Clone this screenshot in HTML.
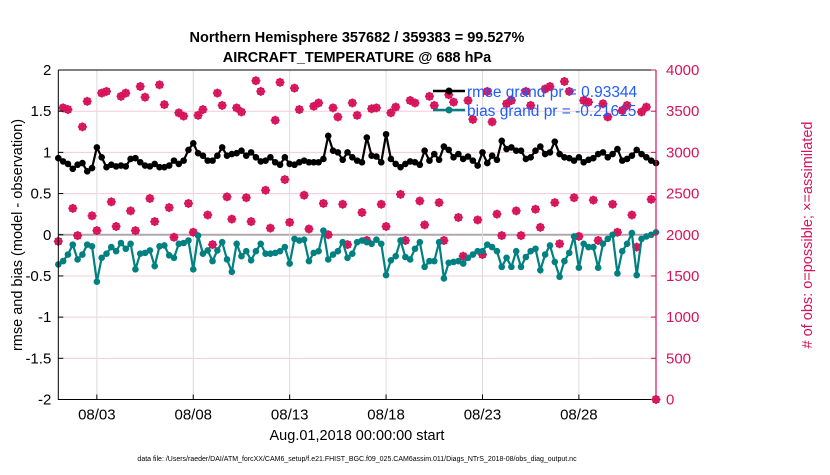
<!DOCTYPE html>
<html><head><meta charset="utf-8">
<style>
body{margin:0;background:#fff;}
svg text{font-family:"Liberation Sans",Arial,sans-serif;}
</style></head>
<body>
<svg id="chart" width="830" height="470" viewBox="0 0 830 470" xmlns="http://www.w3.org/2000/svg">
<rect width="830" height="470" fill="#fff"/>
<g id="grid"></g>
<g id="series"></g>
<g id="axes"></g>
<text x="357" y="42" font-size="14.5" font-weight="bold" text-anchor="middle">Northern Hemisphere 357682 / 359383 = 99.527%</text>
<text x="357" y="62" font-size="14.5" font-weight="bold" text-anchor="middle">AIRCRAFT_TEMPERATURE @ 688 hPa</text>
<text transform="translate(22,235) rotate(-90)" font-size="14.5" text-anchor="middle">rmse and bias (model - observation)</text>
<text transform="translate(812,235) rotate(-90)" font-size="14.5" text-anchor="middle" fill="#d6135a"># of obs: o=possible; ×=assimilated</text>
<text x="357" y="440" font-size="14.5" text-anchor="middle">Aug.01,2018 00:00:00 start</text>
<text x="357" y="461" font-size="7" text-anchor="middle">data file: /Users/raeder/DAI/ATM_forcXX/CAM6_setup/f.e21.FHIST_BGC.f09_025.CAM6assim.011/Diags_NTrS_2018-08/obs_diag_output.nc</text>
<g id="legend">
<line x1="433" y1="91" x2="465" y2="91" stroke="#000" stroke-width="2.5"/>
<circle cx="449" cy="91" r="3.5" fill="#000"/>
<text x="467" y="97" font-size="15.5" fill="#1f5cff">rmse grand pr = 0.93344</text>
<line x1="433" y1="110" x2="465" y2="110" stroke="#008080" stroke-width="2.5"/>
<circle cx="449" cy="110" r="3.5" fill="#008080"/>
<text x="467" y="116" font-size="15.5" fill="#1f5cff">bias grand pr = -0.21615</text>
</g>
</svg>
<script>
const rmse=[0.93,0.89,0.86,0.80,0.85,0.87,0.77,0.81,1.06,0.94,0.82,0.85,0.83,0.84,0.83,0.92,0.93,0.88,0.84,0.83,0.86,0.82,0.82,0.84,0.90,0.86,0.90,1.03,1.11,0.99,0.96,0.90,0.90,0.96,1.06,0.96,0.98,0.99,1.02,0.96,1.00,0.94,0.89,0.90,0.94,0.88,0.85,0.94,0.86,0.85,0.88,0.90,0.88,0.88,0.88,0.92,1.20,1.02,1.00,0.91,1.00,0.94,0.90,0.88,1.18,0.96,0.95,0.88,1.22,0.92,0.86,0.82,0.86,0.89,0.88,0.85,1.02,0.90,0.98,0.91,1.07,1.03,0.94,0.98,0.92,0.95,0.90,0.84,1.00,0.87,0.96,0.91,1.14,1.04,1.06,1.02,1.02,0.92,0.94,1.02,1.07,0.98,1.00,1.13,0.98,0.94,0.93,0.90,0.94,0.88,0.91,0.93,0.98,1.00,0.94,0.98,1.04,0.90,0.92,0.96,1.03,0.98,0.94,0.90,0.87];
const bias=[-0.36,-0.32,-0.24,-0.12,-0.30,-0.24,-0.12,-0.14,-0.57,-0.28,-0.23,-0.15,-0.20,-0.10,-0.17,-0.11,-0.42,-0.23,-0.22,-0.19,-0.38,-0.14,-0.13,-0.25,-0.28,-0.11,-0.10,-0.07,-0.42,-0.01,-0.23,-0.19,-0.32,-0.19,-0.09,-0.30,-0.45,-0.11,-0.26,-0.20,-0.31,-0.20,-0.11,-0.23,-0.23,-0.22,-0.20,-0.15,-0.35,-0.05,-0.07,-0.06,-0.32,-0.22,-0.20,0.05,-0.30,-0.24,-0.20,-0.09,-0.28,-0.23,-0.09,-0.07,-0.09,-0.11,-0.06,-0.11,-0.49,-0.31,-0.26,-0.07,-0.27,-0.30,-0.17,-0.09,-0.39,-0.32,-0.32,-0.09,-0.53,-0.34,-0.33,-0.32,-0.35,-0.28,-0.24,-0.20,-0.20,-0.12,-0.15,-0.20,-0.39,-0.28,-0.39,-0.20,-0.39,-0.27,-0.20,-0.17,-0.43,-0.24,-0.13,-0.33,-0.51,-0.32,-0.22,-0.02,-0.40,-0.11,-0.15,-0.15,-0.40,-0.11,-0.05,0.00,-0.47,-0.20,-0.11,0.02,-0.49,-0.05,-0.02,0.00,0.03];
const nobs=[1920,3540,3520,2320,1990,3310,3620,2230,2050,3720,3740,2400,2100,3680,3720,2290,2050,3800,3670,2440,2160,3820,3580,2330,1970,3480,3440,2380,2030,3450,3520,2240,1880,3720,3570,2460,2190,3540,3490,2450,2160,3870,3740,2540,2080,3390,3850,2670,2150,3780,3520,2480,2070,3560,3600,2380,2000,3540,3430,2370,1880,3600,3450,2270,1930,3530,3540,2370,2100,3480,3550,2490,1930,3630,3600,2410,2120,3680,3570,2390,1930,3700,3610,2210,1740,3630,3400,2180,1760,3740,3370,2250,1990,3590,3630,2290,1990,3740,3570,2310,2090,3770,3800,2390,1890,3860,3740,2450,1980,3630,3610,2420,1930,3590,3430,2370,2030,3510,3570,2240,1850,3490,3550,2430,0];
const leftTicks=[2,1.5,1,0.5,0,-0.5,-1,-1.5,-2];
const leftTickLabels=["2","1.5","1","0.5","0","-0.5","-1","-1.5","-2"];
const rightTicks=[4000,3500,3000,2500,2000,1500,1000,500,0];
const xTickDays=[2,7,12,17,22,27];
const xTickLabels=["08/03","08/08","08/13","08/18","08/23","08/28"];
const stepDays=0.25;

const X0=58.3,X1=656,Y0=70,Y1=399.5,NDAYS=31;
const NS="http://www.w3.org/2000/svg";
const xs=d=>X0+(X1-X0)*d/NDAYS;
const yl=v=>Y1-(Y1-Y0)*(v+2)/4;
const yr=c=>Y1-(Y1-Y0)*c/4000;
function mk(tag,attrs,parent){const e=document.createElementNS(NS,tag);for(const k in attrs)e.setAttribute(k,attrs[k]);parent.appendChild(e);return e;}
const grid=document.getElementById('grid'),ser=document.getElementById('series'),ax=document.getElementById('axes');
const RED="#d6135a";
// grid
rightTicks.forEach(c=>{if(c===0||c===4000)return;const l=mk('line',{x1:X0,x2:X1,y1:yr(c),y2:yr(c),stroke:c===2000?"#b0a8ac":"#f2ccd8","stroke-width":c===2000?2:1},grid);

});
xTickDays.forEach(d=>{const l=mk('line',{x1:xs(d),x2:xs(d),y1:Y0,y2:Y1,stroke:"#dcdcdc","stroke-width":1},grid);

});
// obs markers
nobs.forEach((c,i)=>{const x=xs(i*stepDays),y=yr(c);const g=mk('g',{stroke:RED,"stroke-width":1.6,fill:"none"},ser);


mk('circle',{cx:x,cy:y,r:3.3},g);mk('line',{x1:x-4.5,x2:x+4.5,y1:y,y2:y},g);mk('line',{x1:x,x2:x,y1:y-4.5,y2:y+4.5},g);
mk('line',{x1:x-3.2,x2:x+3.2,y1:y-3.2,y2:y+3.2},g);mk('line',{x1:x-3.2,x2:x+3.2,y1:y+3.2,y2:y-3.2},g);});
function line(arr,color,name){const p=mk('polyline',{points:arr.map((v,i)=>xs(i*stepDays)+","+yl(v)).join(" "),fill:"none",stroke:color,"stroke-width":2.2},ser);


arr.forEach((v,i)=>{const c=mk('circle',{cx:xs(i*stepDays),cy:yl(v),r:3.3,fill:color},ser);

});}
line(rmse,"#000","rmse");line(bias,"#008080","bias");
// axes
const fr=mk('path',{d:`M${X0},${Y0}V${Y1}H${X1}M${X0},${Y0}H${X1}`,stroke:"#000","stroke-width":1,fill:"none"},ax);


const ra=mk('line',{x1:X1,x2:X1,y1:Y0,y2:Y1,stroke:RED,"stroke-width":1.2},ax);


leftTicks.forEach((v,i)=>{mk('line',{x1:X0,x2:X0+5,y1:yl(v),y2:yl(v),stroke:"#000"},ax);
const t=mk('text',{x:X0-7,y:yl(v)+5,"font-size":15,"text-anchor":"end"},ax);t.textContent=leftTickLabels[i];

});
rightTicks.forEach(c=>{mk('line',{x1:X1-5,x2:X1,y1:yr(c),y2:yr(c),stroke:RED},ax);
const t=mk('text',{x:X1+10,y:yr(c)+5,"font-size":15,fill:RED},ax);t.textContent=String(c);

});
xTickDays.forEach((d,i)=>{mk('line',{x1:xs(d),x2:xs(d),y1:Y1,y2:Y1-5,stroke:"#000"},ax);
const t=mk('text',{x:xs(d),y:Y1+20,"font-size":15,"text-anchor":"middle"},ax);t.textContent=xTickLabels[i];

});
</script>
</body></html>
